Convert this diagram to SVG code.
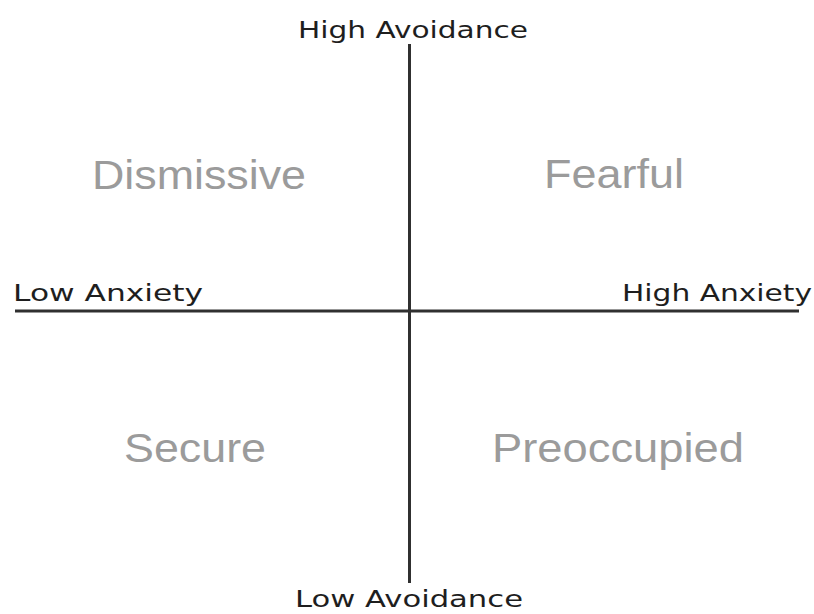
<svg xmlns="http://www.w3.org/2000/svg" width="814" height="614" viewBox="0 0 814 614">
  <style>
    .axis { stroke: #303030; stroke-width: 3; fill: none; stroke-linecap: butt; }
    .pole { font-family: "DejaVu Sans", "Liberation Sans", sans-serif; font-size: 23px; fill: #1e1e1e; }
    .quad { font-family: "Liberation Sans", Arial, sans-serif; font-size: 40px; fill: #9b9b9b; }
  </style>
  <rect width="814" height="614" fill="#ffffff"/>

  <!-- axes -->
  <g id="connectors">
    <line class="axis" x1="409.5" y1="44" x2="409.5" y2="583"/>
    <line class="axis" x1="15" y1="311" x2="799" y2="311"/>
  </g>

  <!-- axis end labels -->
  <g id="high-avoidance">
    <text class="pole" x="298" y="38" textLength="230" lengthAdjust="spacingAndGlyphs">High Avoidance</text>
  </g>
  <g id="low-avoidance">
    <text class="pole" x="295" y="607" textLength="228" lengthAdjust="spacingAndGlyphs">Low Avoidance</text>
  </g>
  <g id="low-anxiety">
    <text class="pole" x="13" y="301" textLength="190" lengthAdjust="spacingAndGlyphs">Low Anxiety</text>
  </g>
  <g id="high-anxiety">
    <text class="pole" x="622" y="301" textLength="190" lengthAdjust="spacingAndGlyphs">High Anxiety</text>
  </g>

  <!-- quadrant labels -->
  <g id="dismissive">
    <text class="quad" x="92" y="189" textLength="214" lengthAdjust="spacingAndGlyphs">Dismissive</text>
  </g>
  <g id="fearful">
    <text class="quad" x="544" y="188" textLength="140" lengthAdjust="spacingAndGlyphs">Fearful</text>
  </g>
  <g id="secure">
    <text class="quad" x="124" y="462" textLength="142" lengthAdjust="spacingAndGlyphs">Secure</text>
  </g>
  <g id="preoccupied">
    <text class="quad" x="492" y="462" textLength="252" lengthAdjust="spacingAndGlyphs">Preoccupied</text>
  </g>
</svg>
